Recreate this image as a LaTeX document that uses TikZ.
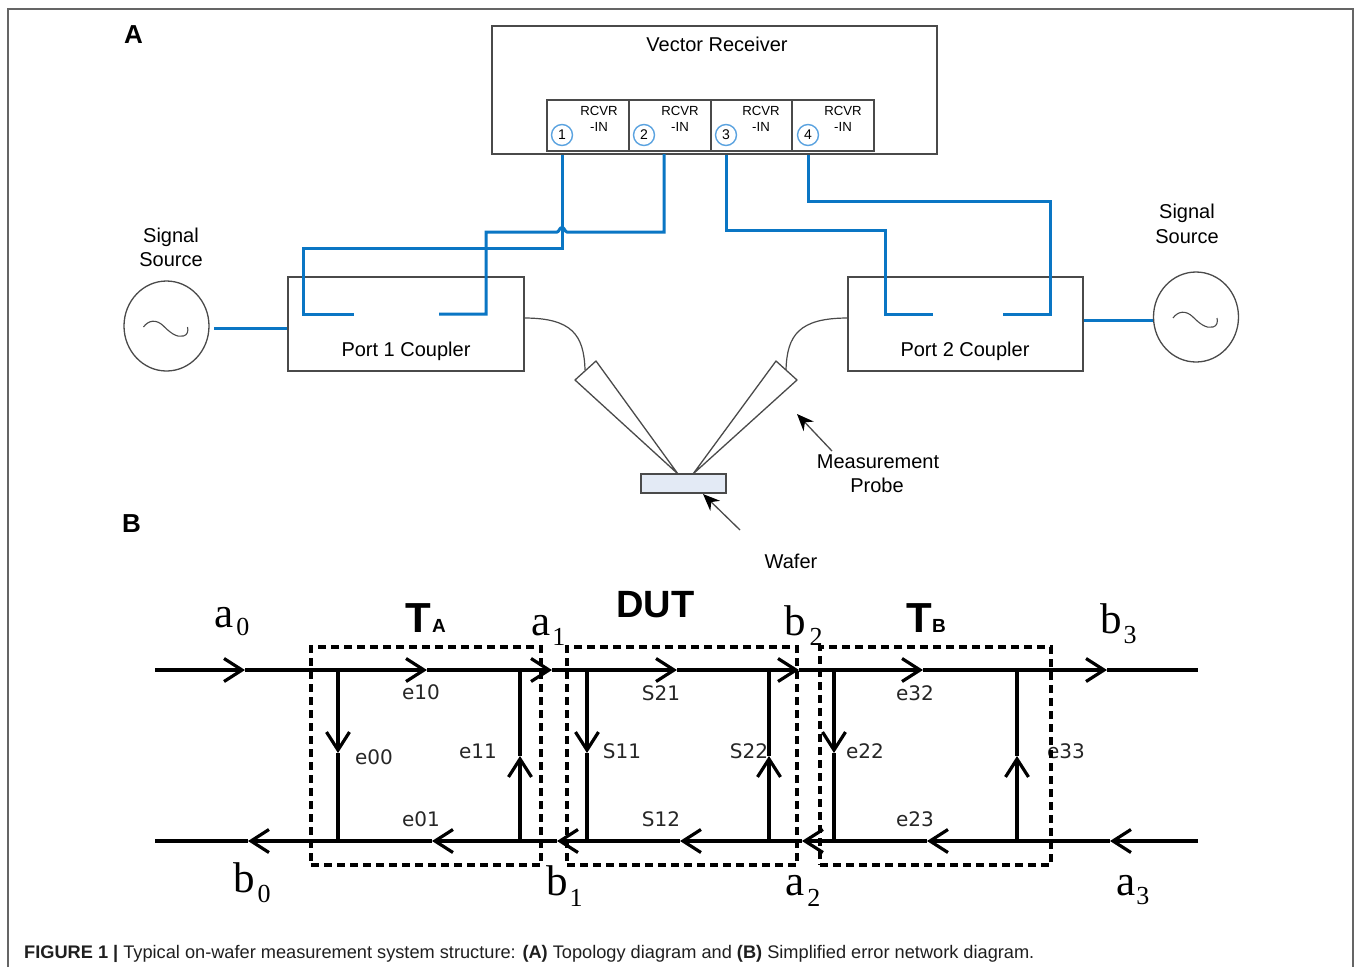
\documentclass[tikz,border=0pt]{standalone}
\usepackage{fontspec}
\setmainfont{Liberation Sans}
\newfontfamily\serifl{Liberation Serif}
\newfontfamily\dejav{DejaVu Sans}
\usetikzlibrary{arrows.meta,shapes.geometric}
\definecolor{bluewire}{HTML}{0A76C4}
\definecolor{grayline}{HTML}{4A4A4A}
\definecolor{waferfill}{HTML}{E3EAF5}
\definecolor{portring}{HTML}{5BA3E0}
\newcommand{\fsz}[1]{\fontsize{#1}{#1}\selectfont}
\tikzset{
  x=1pt,y=-1pt,
  graybox/.style={draw=grayline,line width=1.5pt,rectangle,inner sep=0pt},
  wire/.style={draw=bluewire,line width=3pt,line join=miter},
  cable/.style={draw=grayline,line width=1.2pt},
  lbl/.style={inner sep=0pt,font=\fsz{20}},
  celltxt/.style={inner sep=0pt,font=\fsz{13.2}},
  portring/.style={circle,draw=portring,line width=1.4pt,minimum size=21pt,inner sep=0pt,font=\fsz{14}},
  src/.style={ellipse,draw=grayline,line width=1.3pt,minimum width=85pt,minimum height=90pt,inner sep=0pt},
  sig/.style={draw=black,line width=3.2pt},
  sigarrow/.style={sig,-{Straight Barb[length=18pt,width=23pt,line width=3.2pt]}},
  dashbox/.style={draw=black,line width=3.3pt,dash pattern=on 8pt off 5pt,rectangle,inner sep=0pt,minimum width=230pt,minimum height=218pt},
  elbl/.style={inner sep=0pt,font=\dejav\fsz{20},text=black!85},
  pointer/.style={draw=grayline,line width=1.3pt,-{Stealth[length=17pt,width=14pt,color=black]}},
  pname/.style={inner sep=0pt,anchor=base west},
}
\newcommand{\wave}[1]{%
  \begin{scope}[shift={(#1.center)}]
  \draw[cable,line width=1.1pt] (-23,1) .. controls (-18,-6) and (-10,-7) .. (-3,0) .. controls (3,6) and (10,12) .. (17,10) .. controls (21,9) and (22,5) .. (21,1);
  \end{scope}}
\begin{document}
\begin{tikzpicture}
\useasboundingbox (0,0) rectangle (1354,967);
\fill[white] (0,0) rectangle (1354,967);
\draw[draw=grayline!85,line width=1.3pt] (8,967) -- (8,9) -- (1353,9) -- (1353,967);

\node[inner sep=0pt,font=\bfseries\fsz{26}] (labA) at (133.5,35) {A};
\node[inner sep=0pt,font=\bfseries\fsz{26}] (labB) at (131.5,523.5) {B};

% receiver
\node[graybox,minimum width=445pt,minimum height=128pt] (recv) at (714.5,90) {};
\node[lbl] (recvtitle) at (717,44) {Vector Receiver};
\foreach \n/\cx/\tx/\ccx in {1/588/599/562,2/670/680/644,3/751.5/761/726,4/833/843/808}{
  \node[graybox,minimum width=82pt,minimum height=51pt] (cell\n) at (\cx,125.5) {};
  \node[celltxt] (rc\n) at (\tx,111) {RCVR};
  \node[celltxt] (ri\n) at (\tx,127) {-IN};
  \node[portring] (p\n) at (\ccx,135) {\n};
}

% couplers and sources
\node[graybox,minimum width=236pt,minimum height=94pt] (c1) at (406,324) {};
\node[graybox,minimum width=235pt,minimum height=94pt] (c2) at (965.5,324) {};
\node[lbl] (c1t) at (406,351) {Port 1 Coupler};
\node[lbl] (c2t) at (965,351) {Port 2 Coupler};
\node[src] (s1) at (166.5,326) {};
\node[src] (s2) at (1196,317) {};
\wave{s1}\wave{s2}
\node[lbl] (s1a) at (171,237) {Signal};
\node[lbl] (s1b) at (171,260) {Source};
\node[lbl] (s2a) at (1187,213) {Signal};
\node[lbl] (s2b) at (1187,236.5) {Source};

% coupler stubs
\coordinate (k1) at (354,314);
\coordinate (k2) at (439,314);
\coordinate (k3) at (933,314);
\coordinate (k4) at (1003,314);

% blue wires
\draw[wire] (p1 |- recv.south) -- (562,248) -- (303,248) -- (303,314) -- (k1);
\draw[wire] (664,154) -- (664,232) -- (567,232) .. controls (565,232) and (564.5,227.5) .. (562,227.5) .. controls (559.5,227.5) and (559,232) .. (557,232) -- (486,232) -- (486,314) -- (k2);
\draw[wire] (p3 |- recv.south) -- (726,230) -- (885,230) -- (885,314) -- (k3);
\draw[wire] (p4 |- recv.south) -- (808,201) -- (1050,201) -- (1050,314) -- (k4);
\coordinate (s1w) at (214,328);
\coordinate (s2w) at (1153,320);
\draw[wire] (s1w) -- (s1w -| c1.west);
\draw[wire] (s2w -| c2.east) -- (s2w);

% cables to probes
\coordinate (pl) at (585,370);
\coordinate (pr) at (786,370);
\coordinate (cl) at (524,318);
\coordinate (cr) at (848,318);
\draw[cable] (cl) .. controls (572,318) and (584,335) .. (pl);
\draw[cable] (cr) .. controls (799,318) and (787,335) .. (pr);

% probes & wafer
\draw[draw=grayline,line width=1.3pt,fill=white,line join=round] (575,380) -- (596,361) -- (678,474) -- cycle;
\draw[draw=grayline,line width=1.3pt,fill=white,line join=round] (797,380) -- (776,361) -- (693,474) -- cycle;
\node[draw=grayline,line width=1.5pt,fill=waferfill,inner sep=0pt,minimum width=85pt,minimum height=19pt] (wafer) at (683.5,483.5) {};

\coordinate (mp) at (797,414);
\coordinate (mq) at (832,451);
\coordinate (wp) at (703,494);
\coordinate (wq) at (740,530);
\node[lbl] (mt1) at (878,462) {Measurement};
\node[lbl] (mt2) at (877,485.5) {Probe};
\node[lbl] (wt) at (791,561.5) {Wafer};
\draw[pointer] (mq) -- (mp);
\draw[pointer] (wq) -- (wp);

% network B coordinates
\foreach \n/\xx in {l/155,a/245,ja/338,b/427,jb/520,c/552,jc/587,d/677,jd/769,e/799,je/834,f/923,jf/1017,g/1107,r/1198}{
  \coordinate (T\n) at (\xx,670);}
\foreach \n/\xx in {l/155,a/248,ja/338,b/432,jb/520,c/557,jc/587,d/680,jd/769,e/802,je/834,f/927,jf/1017,g/1110,r/1198}{
  \coordinate (B\n) at (\xx,841);}

% top rail
\draw[sigarrow] (Tl) -- (Ta);
\draw[sigarrow] (Ta) -- (Tb);
\draw[sigarrow] (Tb) -- (Tc);
\draw[sigarrow] (Tc) -- (Td);
\draw[sigarrow] (Td) -- (Te);
\draw[sigarrow] (Te) -- (Tf);
\draw[sigarrow] (Tf) -- (Tg);
\draw[sig] (Tg) -- (Tr);
% bottom rail
\draw[sig] (Bl) -- (Ba);
\draw[sigarrow] (Bb) -- (Ba);
\draw[sigarrow] (Bc) -- (Bb);
\draw[sigarrow] (Bd) -- (Bc);
\draw[sigarrow] (Be) -- (Bd);
\draw[sigarrow] (Bf) -- (Be);
\draw[sigarrow] (Bg) -- (Bf);
\draw[sigarrow] (Br) -- (Bg);
% rungs
\coordinate (Va) at (338,753);
\coordinate (Vb) at (520,756);
\coordinate (Vc) at (587,753);
\coordinate (Vd) at (769,756);
\coordinate (Ve) at (834,753);
\coordinate (Vf) at (1017,756);
\draw[sigarrow] (Tja) -- (Va);
\draw[sig] (Va) -- (Bja);
\draw[sigarrow] (Bjb) -- (Vb);
\draw[sig] (Vb) -- (Tjb);
\draw[sigarrow] (Tjc) -- (Vc);
\draw[sig] (Vc) -- (Bjc);
\draw[sigarrow] (Bjd) -- (Vd);
\draw[sig] (Vd) -- (Tjd);
\draw[sigarrow] (Tje) -- (Ve);
\draw[sig] (Ve) -- (Bje);
\draw[sigarrow] (Bjf) -- (Vf);
\draw[sig] (Vf) -- (Tjf);

% edge labels
\foreach \n/\t/\xx/\yy in {n1/e10/421/692.5,n2/e00/374/757,n3/e11/478/751,n4/e01/421/819,n5/S21/661/693,n6/S11/622/751,n7/S22/749/751,n8/S12/661/819,n9/e32/915/693,n10/e22/865/751,n11/e23/915/819,n12/e33/1066/751}{
  \node[elbl] (\n) at (\xx,\yy) {\t};}

% dashed boxes
\node[dashbox] (ta) at (426,756) {};
\node[dashbox] (dut) at (682,756) {};
\node[dashbox,minimum width=231pt] (tb) at (935.5,756) {};

% titles
\node[pname,font=\bfseries\fsz{42}] (tt1) at (405,632) {T};
\node[pname,font=\bfseries\fsz{19}] (tt2) at (432,632) {A};
\node[pname,font=\bfseries\fsz{38}] (tt3) at (616,617) {DUT};
\node[pname,font=\bfseries\fsz{42}] (tt4) at (906,632.5) {T};
\node[pname,font=\bfseries\fsz{19}] (tt5) at (932,632.5) {B};

% port names
\foreach \n/\l/\d/\xx/\yy/\kk/\dd in {
  va0/a/0/214/627/3/8,
  va1/a/1/531/635/2/10,
  vb0/b/0/233/892/3/10,
  vb1/b/1/546/895/2/11,
  vb2/b/2/784/635/4/10,
  vb3/b/3/1100/633/2/10,
  va2/a/2/785/895/3/11,
  va3/a/3/1116/895/1/9}{
  \node[pname,font=\serifl] (\n) at (\xx,\yy) {\fsz{43}\l\kern\kk pt\raisebox{-\dd pt}{\fsz{26}\d}};}

% caption
\node[pname,text=black!88] (cap) at (24,958) {\fsz{18.2}\textbf{FIGURE 1 |} Typical on-wafer measurement system structure: \textbf{(A)} Topology diagram and \textbf{(B)} Simplified error network diagram.};
\end{tikzpicture}
\end{document}
